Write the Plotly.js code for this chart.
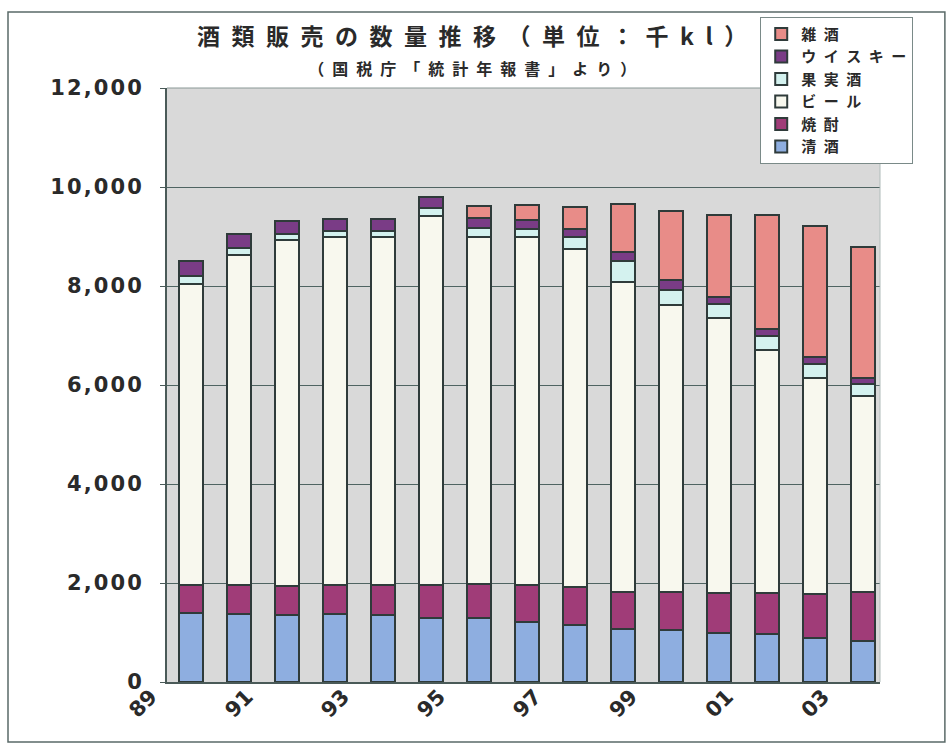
<!DOCTYPE html>
<html>
<head>
<meta charset="utf-8">
<script src="https://cdn.plot.ly/plotly-3.0.1.min.js"></script>
<style>
  html, body { margin: 0; padding: 0; background: #ffffff; }
  #chart { width: 950px; height: 748px; }
</style>
</head>
<body>
<div id="chart"></div>
<script>
// Years (fiscal), 1989-2003
const years = ['89','90','91','92','93','94','95','96','97','98','99','00','01','02','03'];
const tickYears = ['89','91','93','95','97','99','01','03'];
const yTicks = [0, 2000, 4000, 6000, 8000, 10000, 12000];

// Sales volume, thousand kl
const sake    = [1390,1380,1360,1380,1360,1290,1290,1220,1150,1070,1050,1000, 970, 880, 830];
const shochu  = [ 570, 580, 580, 580, 600, 670, 680, 740, 760, 740, 760, 790, 820, 890, 980];
const beer    = [6090,6670,6990,7030,7030,7460,7030,7020,6830,6270,5810,5560,4910,4380,3970];
const fruit   = [ 150, 130, 120, 130, 130, 150, 170, 170, 250, 420, 300, 280, 290, 280, 250];
const whisky  = [ 300, 300, 260, 230, 230, 230, 210, 180, 170, 180, 200, 150, 150, 130, 120];
const zatsu   = [   0,   0,   0,   0,   0,   0, 240, 310, 430, 980,1400,1650,2300,2650,2630];

const seriesNames = ['清酒','焼酎','ビール','果実酒','ウイスキー','雑酒'];
const seriesData  = [sake, shochu, beer, fruit, whisky, zatsu];
const seriesColors = ['#8eaee0','#a03c78','#f8f8ee','#d4f2ef','#7a3c86','#e88c88'];

const titleText = '酒類販売の数量推移（単位：千kl）';
const subtitleText = '（国税庁「統計年報書」より）';

// widen text spacing like the original (spaces only, text unchanged)
const spaced = (s, sp) => Array.from(s).join(sp);

const traces = seriesNames.map((name, i) => ({
  type: 'bar',
  name: spaced(name, '\u2002'),
  x: years,
  y: seriesData[i],
  marker: { color: seriesColors[i], line: { color: '#2f3b3a', width: 2 } },
  hoverinfo: 'x+y+name'
}));

const layout = {
  width: 950,
  height: 748,
  paper_bgcolor: '#ffffff',
  plot_bgcolor: '#d9d9d9',
  barmode: 'stack',
  bargap: 0.5,
  margin: { l: 167, r: 70, t: 88, b: 66 },
  font: { family: '"DejaVu Sans", sans-serif', color: '#2a2a2a' },
  title: {
    text: '<b>' + spaced(titleText, '\u2002') + '</b><br><span style="font-size:16px"><b>' +
          spaced(subtitleText, '\u2002') + '</b></span>',
    font: { family: '"Noto Sans CJK JP", sans-serif', size: 23, color: '#2a2a2a' },
    x: 0.497, xanchor: 'center',
    y: 0.94, yanchor: 'middle'
  },
  xaxis: {
    type: 'category',
    tickmode: 'array',
    tickvals: tickYears,
    ticktext: tickYears,
    tickangle: -45,
    ticks: '',
    ticklabelshift: -40,
    ticklabelstandoff: -8,
    tickfont: { family: '"DejaVu Sans", sans-serif', size: 21, color: '#2a2a2a', weight: 'bold' },
    showline: true, linecolor: '#4a5a58', linewidth: 2,
    showgrid: false,
    range: [-0.5, 14.35]
  },
  yaxis: {
    range: [0, 12000],
    tickmode: 'array',
    tickvals: yTicks,
    ticktext: yTicks.map(v => spaced(v.toLocaleString('en-US'), '\u200A')),
    ticks: 'outside', ticklen: 5, tickcolor: '#4a5a58',
    tickfont: { family: '"DejaVu Sans", sans-serif', size: 21, color: '#2a2a2a', weight: 'bold' },
    showgrid: true, gridcolor: '#4f6462', gridwidth: 1,
    showline: true, linecolor: '#4a5a58', linewidth: 2,
    zeroline: false,
    ticklabelstandoff: 14
  },
  legend: {
    x: 0.832, xanchor: 'left',
    y: 1.12, yanchor: 'top',
    traceorder: 'reversed',
    bgcolor: '#ffffff',
    bordercolor: '#7a8a88', borderwidth: 1,
    font: { family: '"Noto Sans CJK JP", sans-serif', size: 15, color: '#2a2a2a', weight: 'bold' },
    itemwidth: 30,
    tracegroupgap: 0
  },
  shapes: [
    { type: 'rect', xref: 'paper', yref: 'paper',
      x0: -0.223, x1: 1.091, y0: -0.101, y1: 1.128,
      line: { color: '#5a6a68', width: 1.5 }, fillcolor: 'rgba(0,0,0,0)', layer: 'below' },
    { type: 'line', xref: 'paper', yref: 'paper', x0: 0, x1: 1, y0: 1, y1: 1,
      line: { color: '#8a9896', width: 1 } },
    { type: 'line', xref: 'paper', yref: 'paper', x0: 1, x1: 1, y0: 0, y1: 1,
      line: { color: '#b0bcba', width: 1 } }
  ]
};

Plotly.newPlot('chart', traces, layout, { displayModeBar: false, staticPlot: true });
</script>
</body>
</html>
